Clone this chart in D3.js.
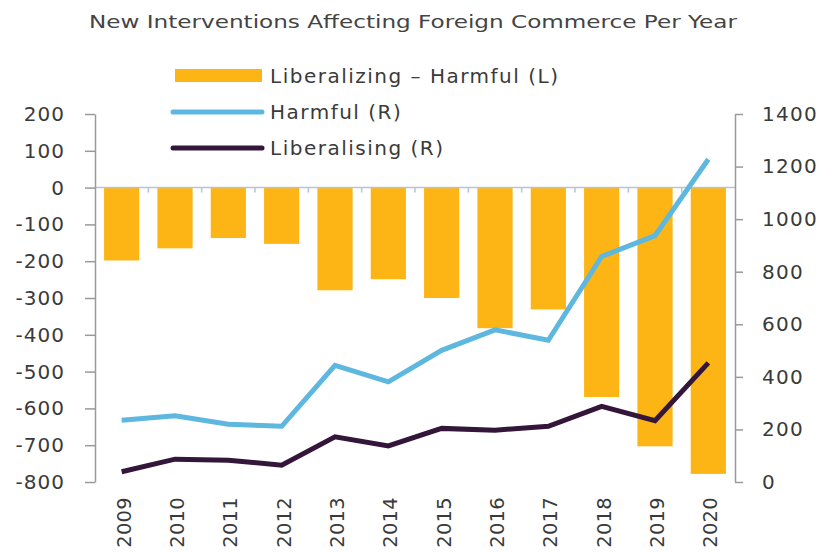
<!DOCTYPE html>
<html>
<head>
<meta charset="utf-8">
<script src="https://cdn.jsdelivr.net/npm/d3@7"></script>
<style>
  html, body { margin: 0; padding: 0; background: #fff; }
  svg { display: block; }
  text { font-family: "DejaVu Sans", sans-serif; fill: #3a3a3a; }
</style>
</head>
<body>
<svg id="chart" width="823" height="552"></svg>
<script>
const years = ["2009","2010","2011","2012","2013","2014","2015","2016","2017","2018","2019","2020"];
const netValues = [-198, -165, -137, -153, -279, -249, -300, -382, -331, -569, -703, -778];
const harmful = [235, 252, 220, 212, 444, 381, 501, 579, 539, 858, 937, 1228];
const liberalising = [39, 87, 83, 64, 172, 137, 204, 197, 212, 288, 233, 453];
const leftTicks = [200, 100, 0, -100, -200, -300, -400, -500, -600, -700, -800];
const rightTicks = [1400, 1200, 1000, 800, 600, 400, 200, 0];
const title = "New Interventions Affecting Foreign Commerce Per Year";
const legendLabels = ["Liberalizing \u2013 Harmful (L)", "Harmful (R)", "Liberalising (R)"];

const colors = { bar: "#FDB515", harmful: "#5DB7DF", lib: "#33163A" };

const svg = d3.select("#chart");
const pLeft = 95, pRight = 735, pTop = 114, pBottom = 482;

const x = d3.scaleBand().domain(years).range([pLeft, pRight]).paddingInner(0.34).paddingOuter(0.17);
const xb = d3.scaleBand().domain(years).range([pLeft, pRight]);
const yL = d3.scaleLinear().domain([-800, 200]).range([pBottom, pTop]);
const yR = d3.scaleLinear().domain([0, 1400]).range([pBottom, pTop]);

// title
svg.append("text").attr("x", 89).attr("y", 28)
  .attr("font-size", 18.5).attr("textLength", 648).attr("lengthAdjust", "spacingAndGlyphs")
  .style("fill", "#444").text(title);

// bars
svg.append("g").selectAll("rect").data(years).join("rect")
  .attr("x", d => x(d))
  .attr("width", x.bandwidth())
  .attr("y", (d, i) => yL(Math.max(0, netValues[i])))
  .attr("height", (d, i) => Math.abs(yL(netValues[i]) - yL(0)))
  .attr("fill", colors.bar);

// zero line with category ticks
const zg = svg.append("g");
zg.append("line").attr("x1", pLeft).attr("x2", pRight).attr("y1", yL(0)).attr("y2", yL(0))
  .attr("stroke", "#B9C3D6").attr("stroke-width", 1.5);
zg.selectAll("line.t").data(years.slice(1)).join("line").attr("class", "t")
  .attr("x1", d => xb(d)).attr("x2", d => xb(d))
  .attr("y1", yL(0)).attr("y2", yL(0) + 5)
  .attr("stroke", "#B9C3D6").attr("stroke-width", 1.5);

// left axis
const axL = svg.append("g").attr("transform", `translate(${pLeft},0)`)
  .call(d3.axisLeft(yL).tickValues(leftTicks).tickSize(10).tickPadding(20).tickSizeOuter(0).tickFormat(d => String(d)));
axL.select(".domain").attr("stroke", "#9a9a9a").attr("stroke-width", 1.5);
axL.selectAll(".tick line").attr("stroke", "#9a9a9a").attr("stroke-width", 1.5);
axL.selectAll(".tick text").attr("font-size", 20).style("letter-spacing", "1px")
  .attr("font-family", "DejaVu Sans").style("fill", "#3a3a3a");

// right axis
const axR = svg.append("g").attr("transform", `translate(${pRight},0)`)
  .call(d3.axisRight(yR).tickValues(rightTicks).tickSize(8).tickPadding(19).tickSizeOuter(0).tickFormat(d => String(d)));
axR.select(".domain").attr("stroke", "#9a9a9a").attr("stroke-width", 1.5);
axR.selectAll(".tick line").attr("stroke", "#9a9a9a").attr("stroke-width", 1.5);
axR.selectAll(".tick text").attr("font-size", 20).style("letter-spacing", "1.3px")
  .attr("font-family", "DejaVu Sans").style("fill", "#3a3a3a");

// x labels
svg.append("g").selectAll("text").data(years).join("text")
  .attr("transform", d => `translate(${xb(d) + xb.bandwidth() / 2 + 9},497) rotate(-90)`)
  .attr("text-anchor", "end").attr("font-size", 19.5).style("letter-spacing", "0.3px").text(d => d);

// lines
const line = d3.line().x((d, i) => xb(years[i]) + xb.bandwidth() / 2).y(d => yR(d));
svg.append("path").datum(harmful).attr("d", line).attr("fill", "none")
  .attr("stroke", colors.harmful).attr("stroke-width", 5).attr("stroke-linejoin", "miter");
svg.append("path").datum(liberalising).attr("d", line).attr("fill", "none")
  .attr("stroke", colors.lib).attr("stroke-width", 5).attr("stroke-linejoin", "miter");

// legend
const lg = svg.append("g");
lg.append("rect").attr("x", 175).attr("y", 69).attr("width", 87).attr("height", 13).attr("fill", colors.bar);
lg.append("line").attr("x1", 173).attr("x2", 262).attr("y1", 112).attr("y2", 112)
  .attr("stroke", colors.harmful).attr("stroke-width", 5).attr("stroke-linecap", "round");
lg.append("line").attr("x1", 173).attr("x2", 262).attr("y1", 148).attr("y2", 148)
  .attr("stroke", colors.lib).attr("stroke-width", 5).attr("stroke-linecap", "round");
const ly = [83, 119, 155];
lg.selectAll("text").data(legendLabels).join("text")
  .attr("x", 270).attr("y", (d, i) => ly[i]).attr("font-size", 20).style("letter-spacing", "1.5px").text(d => d);
</script>
</body>
</html>
